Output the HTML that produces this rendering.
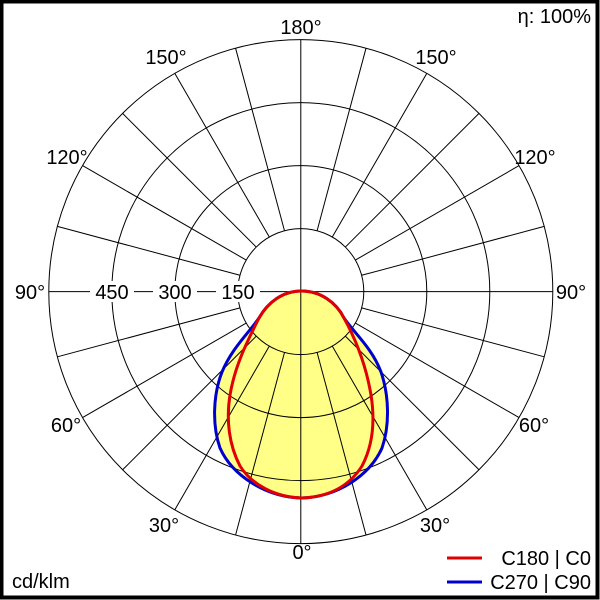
<!DOCTYPE html>
<html><head><meta charset="utf-8"><style>
html,body{margin:0;padding:0;background:#fff;}
svg{display:block;}
text{font-family:"Liberation Sans",Arial,sans-serif;font-size:20px;fill:#000;}
</style></head><body>
<svg width="600" height="600" viewBox="0 0 600 600" xmlns="http://www.w3.org/2000/svg">
<defs>
<g id="q" stroke="#000" stroke-width="1">
<line x1="16.31" y1="60.85" x2="65.22" y2="243.41"/>
<line x1="31.5" y1="54.56" x2="126" y2="218.24"/>
<line x1="44.55" y1="44.55" x2="178.19" y2="178.19"/>
<line x1="54.56" y1="31.5" x2="218.24" y2="126"/>
<line x1="60.85" y1="16.31" x2="243.41" y2="65.22"/>
</g>
</defs>
<rect x="0" y="0" width="600" height="600" fill="#fff"/>
<path fill="#ffff88" d="M301.5,291 C283,291 268,302 259,318 C248,334 232,348 222,372 C213,395 212,425 220,448 C232,475 265,497 301.5,498 C338,497 370,475 382,448 C390,425 389,395 381,372 C372,348 355,334 344,318 C336,302 320,291 301.5,291 Z"/>
<g stroke="#000" stroke-width="1" fill="none">
<circle cx="300.8" cy="291.6" r="63"/>
<circle cx="300.8" cy="291.6" r="126"/>
<circle cx="300.8" cy="291.6" r="189"/>
<circle cx="300.8" cy="291.6" r="252"/>
<line x1="300.8" y1="39.6" x2="300.8" y2="543.6"/>
<line x1="48.8" y1="291.6" x2="552.8" y2="291.6"/>
</g>
<use href="#q" transform="translate(300.8,291.6)"/>
<use href="#q" transform="translate(300.8,291.6) scale(-1,1)"/>
<use href="#q" transform="translate(300.8,291.6) scale(1,-1)"/>
<use href="#q" transform="translate(300.8,291.6) scale(-1,-1)"/>
<g fill="none" stroke-width="3" stroke-linejoin="round">
<path stroke="#0000cc" d="M301.5,291 C283,291 268,302 259,318 C248,334 232,348 222,372 C213,395 212,425 220,448 C232,475 265,497 301.5,498 C338,497 370,475 382,448 C390,425 389,395 381,372 C372,348 355,334 344,318 C336,302 320,291 301.5,291 Z"/>
<path stroke="#e00000" d="M301.5,291 C283,291 268,302 259,318 C248,340 235,365 230,395 C226,420 229,445 240,466 C252,485 275,497 301.5,498 C330,497 350,485 362,466 C373,445 375,420 371,395 C366,365 355,338 344,318 C336,302 320,291 301.5,291 Z"/>
</g>
<g>
<rect x="90" y="281" width="44" height="21" fill="#fff"/>
<rect x="153" y="281" width="44" height="21" fill="#fff"/>
<rect x="216" y="281" width="44" height="21" fill="#fff"/>
<text x="112" y="299" text-anchor="middle">450</text>
<text x="175" y="299" text-anchor="middle">300</text>
<text x="238" y="299" text-anchor="middle">150</text>
<text x="301" y="34" text-anchor="middle">180°</text>
<text x="166" y="64" text-anchor="middle">150°</text>
<text x="436" y="64" text-anchor="middle">150°</text>
<text x="67" y="164" text-anchor="middle">120°</text>
<text x="535" y="164" text-anchor="middle">120°</text>
<text x="30" y="299" text-anchor="middle">90°</text>
<text x="571" y="299" text-anchor="middle">90°</text>
<text x="66" y="432" text-anchor="middle">60°</text>
<text x="534" y="432" text-anchor="middle">60°</text>
<text x="164" y="532" text-anchor="middle">30°</text>
<text x="435" y="532" text-anchor="middle">30°</text>
<text x="302" y="559" text-anchor="middle">0°</text>
<text x="591" y="23" text-anchor="end">η: 100%</text>
<text x="12" y="588">cd/klm</text>
<text x="591" y="565" text-anchor="end">C180 | C0</text>
<text x="591" y="589" text-anchor="end">C270 | C90</text>
</g>
<line x1="447" y1="558" x2="482" y2="558" stroke="#e00000" stroke-width="3"/>
<line x1="447" y1="582" x2="482" y2="582" stroke="#0000cc" stroke-width="3"/>
<rect x="1.5" y="1.5" width="596" height="596" fill="none" stroke="#000" stroke-width="4"/>
</svg>
</body></html>
